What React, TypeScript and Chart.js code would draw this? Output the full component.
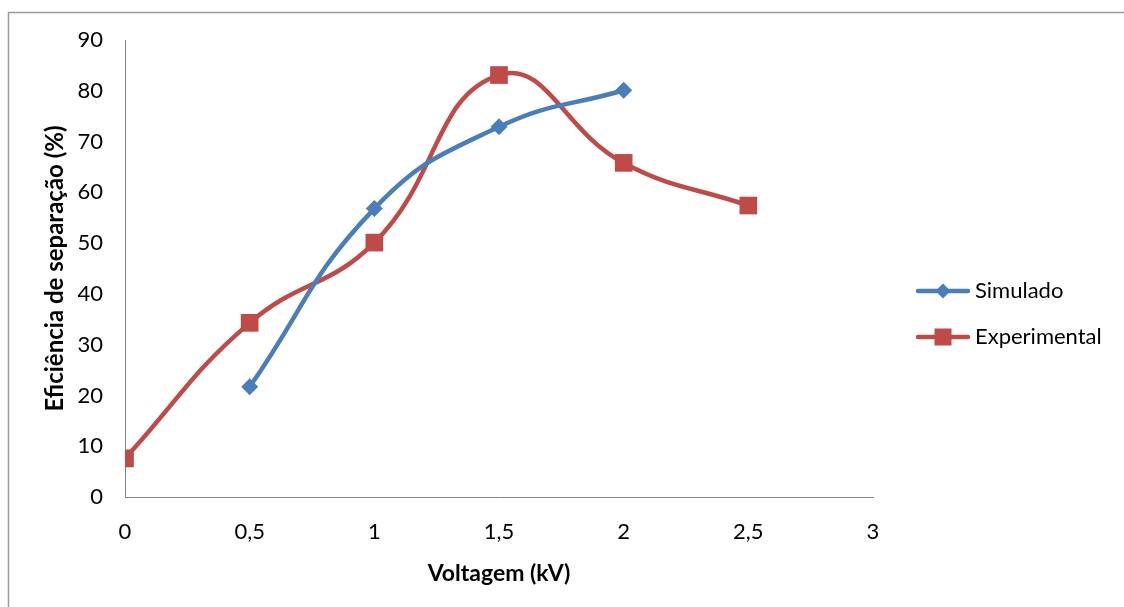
import React, { useEffect, useRef } from 'react';
import { Chart, registerables } from 'chart.js';

Chart.register(...registerables);

// Eficiência de separação (%) vs voltagem (kV)
const simuladoX = [0.5, 1, 1.5, 2];
const simuladoY = [21.7, 56.8, 72.9, 80.1];
const experimentalX = [0, 0.5, 1, 1.5, 2, 2.5];
const experimentalY = [7.6, 34.3, 50.1, 83.1, 65.8, 57.4];

const seriesNames = ['Simulado', 'Experimental'];
const seriesColors = ['#4A7EBB', '#BE4B48'];

const xMin = 0;
const xMax = 3;
const xStep = 0.5;
const yMin = 0;
const yMax = 90;
const yStep = 10;

const xTitle = 'Voltagem (kV)';
const yTitle = 'Eficiência de separação (%)';

const FONT = 'Lato, "Open Sans", "DejaVu Sans", sans-serif';
const TEXT_SIZE = 22;

const toPoints = (xs: number[], ys: number[]) => xs.map((x, i) => ({ x, y: ys[i] }));
const decimalComma = (v: number | string) => String(v).replace('.', ',');

// Outer frame (only the left and top edges are visible in the page)
const framePlugin = {
  id: 'frame',
  beforeDraw(chart: any) {
    const { ctx } = chart;
    ctx.save();
    ctx.strokeStyle = '#9a9a9a';
    ctx.lineWidth = 1.5;
    ctx.beginPath();
    ctx.moveTo(8.5, chart.height);
    ctx.lineTo(8.5, 12.5);
    ctx.lineTo(chart.width, 12.5);
    ctx.stroke();
    ctx.restore();
  },
};

// Legend with a line + marker sample, drawn to the right of the plot
const legendPlugin = {
  id: 'sideLegend',
  afterDraw(chart: any) {
    const { ctx, chartArea } = chart;
    const x0 = chartArea.right + 45;
    const x1 = x0 + 50;
    const rows = [chartArea.top + 251, chartArea.top + 297];
    ctx.save();
    chart.data.datasets.forEach((ds: any, i: number) => {
      const y = rows[i];
      ctx.strokeStyle = ds.borderColor;
      ctx.lineWidth = 4.5;
      ctx.lineCap = 'round';
      ctx.beginPath();
      ctx.moveTo(x0, y);
      ctx.lineTo(x1, y);
      ctx.stroke();
      const cx = (x0 + x1) / 2;
      ctx.fillStyle = ds.backgroundColor;
      ctx.beginPath();
      if (ds.pointStyle === 'rectRot') {
        const r = 7.5;
        ctx.moveTo(cx, y - r);
        ctx.lineTo(cx + r, y);
        ctx.lineTo(cx, y + r);
        ctx.lineTo(cx - r, y);
        ctx.closePath();
      } else {
        const s = 8.5;
        ctx.rect(cx - s, y - s, 2 * s, 2 * s);
      }
      ctx.fill();
      ctx.fillStyle = '#000';
      ctx.font = `${TEXT_SIZE}px ${FONT}`;
      ctx.textBaseline = 'middle';
      ctx.textAlign = 'left';
      ctx.fillText(ds.label, x1 + 7, y);
    });
    ctx.restore();
  },
};

export default function App() {
  const canvasRef = useRef<HTMLCanvasElement | null>(null);

  useEffect(() => {
    if (!canvasRef.current) return;
    const chart = new Chart(canvasRef.current, {
      type: 'scatter',
      data: {
        datasets: [
          {
            label: seriesNames[0],
            data: toPoints(simuladoX, simuladoY),
            showLine: true,
            tension: 0.45,
            borderColor: seriesColors[0],
            backgroundColor: seriesColors[0],
            borderWidth: 4.5,
            pointStyle: 'rectRot',
            pointRadius: 8.5,
            pointBorderWidth: 0,
          },
          {
            label: seriesNames[1],
            data: toPoints(experimentalX, experimentalY),
            showLine: true,
            tension: 0.45,
            borderColor: seriesColors[1],
            backgroundColor: seriesColors[1],
            borderWidth: 4.5,
            pointStyle: 'rect',
            pointRadius: 12.5,
            pointBorderWidth: 0,
          },
        ],
      },
      options: {
        responsive: false,
        animation: false,
        layout: { padding: { left: 0, top: 40, right: 251, bottom: 0 } },
        plugins: {
          legend: { display: false },
          tooltip: { enabled: false },
        },
        scales: {
          x: {
            type: 'linear',
            min: xMin,
            max: xMax,
            grid: { display: false, drawTicks: false },
            border: { display: true, color: '#868686', width: 1 },
            ticks: {
              stepSize: xStep,
              padding: 22,
              color: '#000',
              font: { family: FONT, size: TEXT_SIZE },
              callback: (v: any) => decimalComma(v),
            },
            title: {
              display: true,
              text: xTitle,
              color: '#000',
              font: { family: FONT, size: 23, weight: 'bold' },
              padding: { top: 0, bottom: 20 },
            },
            afterFit: (scale: any) => {
              scale.height = 110;
            },
          },
          y: {
            type: 'linear',
            min: yMin,
            max: yMax,
            grid: { display: false, drawTicks: false },
            border: { display: true, color: '#868686', width: 1 },
            ticks: {
              stepSize: yStep,
              padding: 22,
              color: '#000',
              font: { family: FONT, size: TEXT_SIZE },
              callback: (v: any) => decimalComma(v),
            },
            title: {
              display: true,
              text: yTitle,
              color: '#000',
              font: { family: FONT, size: 24, weight: 'bold' },
              padding: { top: 41, bottom: 0 },
            },
            afterFit: (scale: any) => {
              scale.width = 125;
            },
          },
        },
      },
      plugins: [framePlugin, legendPlugin],
    });
    return () => chart.destroy();
  }, []);

  return (
    <div style={{ position: 'fixed', left: 0, top: 0, width: 1124, height: 607, background: '#fff' }}>
      <canvas ref={canvasRef} width={1124} height={607} />
    </div>
  );
}
